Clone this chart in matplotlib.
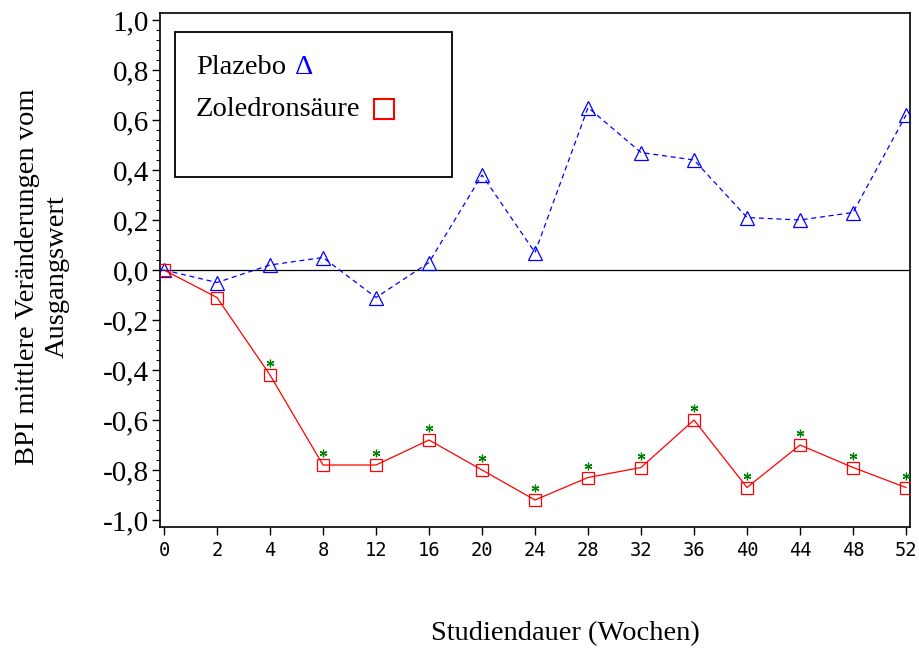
import numpy as np
import matplotlib
matplotlib.use("Agg")
import matplotlib.pyplot as plt
from matplotlib.ticker import MultipleLocator, FuncFormatter
from matplotlib.transforms import offset_copy
from matplotlib.patches import Rectangle

# data
weeks = ["0", "2", "4", "8", "12", "16", "20", "24", "28", "32", "36", "40", "44", "48", "52"]
plazebo = [0.00, -0.05, 0.02, 0.05, -0.11, 0.03, 0.38, 0.07, 0.65, 0.47, 0.44, 0.21, 0.20, 0.23, 0.62]
zoledron = [0.00, -0.11, -0.42, -0.78, -0.78, -0.68, -0.80, -0.92, -0.83, -0.79, -0.60, -0.87, -0.70, -0.79, -0.87]
signif = [False, False, True, True, True, True, True, True, True, True, True, True, True, True, True]

SERIF = ["Liberation Serif", "DejaVu Serif"]
FS = 20.5
W, H = 920, 650

fig = plt.figure(figsize=(9.2, 6.5), dpi=100)
ax = fig.add_axes([160 / W, 1 - 527 / H, 750 / W, 514 / H])

x = np.arange(len(weeks))
ax.axhline(0, color="black", lw=0.9, zorder=1)
ax.plot(x, plazebo, color="#0000ff", lw=0.9, ls=(0, (4, 3)),
        marker="^", ms=10, mfc="none", mec="#0000ff", mew=0.9, zorder=3)
ax.plot(x, zoledron, color="#ff0000", lw=0.9, ls="-",
        marker="s", ms=8.5, mfc="none", mec="#ff0000", mew=0.9, zorder=3)

# significance asterisks above the squares
star_tr = offset_copy(ax.transData, fig=fig, x=0, y=12, units="dots")
sx = [xi for xi, s in zip(x, signif) if s]
sy = [yi for yi, s in zip(zoledron, signif) if s]
ax.plot(sx, sy, ls="none", marker=(6, 2, 0), ms=5.5, mew=0.9,
        color="#008000", transform=star_tr, zorder=4)

ax.set_xlim(-0.075, 14.075)
ax.set_ylim(-1.028, 1.028)
ax.set_xticks(x)
ax.set_xticklabels(weeks, family="DejaVu Sans Mono", fontsize=13.5)
ax.yaxis.set_major_locator(MultipleLocator(0.2))
ax.yaxis.set_minor_locator(MultipleLocator(0.04))
ax.yaxis.set_major_formatter(FuncFormatter(lambda v, p: f"{v:.1f}".replace(".", ",")))
for lab in ax.get_yticklabels():
    lab.set_family(SERIF)
    lab.set_fontsize(21)
ax.tick_params(axis="y", which="major", length=6, width=1, pad=2)
ax.tick_params(axis="y", which="minor", length=3, width=0.8)
ax.tick_params(axis="x", which="major", length=6, width=1, pad=4)
for sp in ax.spines.values():
    sp.set_linewidth(1.2)

# legend box drawn by hand (figure pixel coords)
def fx(px):
    return px / W

def fy(py):
    return 1 - py / H

fig.patches.append(Rectangle((fx(175), fy(177)), fx(452) - fx(175), fy(32) - fy(177),
                             transform=fig.transFigure, fill=False, ec="black", lw=1.3, zorder=5))
fig.text(fx(196), fy(67), "Plazebo", family=SERIF, fontsize=FS, va="center", ha="left")
fig.text(fx(295), fy(67), "\u0394", family=SERIF, fontsize=FS, va="center", ha="left", color="#0000ff")
fig.text(fx(196), fy(110), "Zoledronsäure", family=SERIF, fontsize=FS, va="center", ha="left")
fig.lines.append(plt.Line2D([fx(384.5)], [fy(109)], transform=fig.transFigure, marker="s", ms=15,
                            mfc="none", mec="#ff0000", mew=1.5, ls="none"))

fig.text(fx(565), fy(634), "Studiendauer (Wochen)", family=SERIF, fontsize=FS, ha="center", va="center")
fig.text(fx(42), fy(277), "BPI mittlere Veränderungen vom\nAusgangswert", family=SERIF, fontsize=FS,
         ha="center", va="center", rotation=90, linespacing=1.25)

fig.savefig("out.png", dpi=100)
